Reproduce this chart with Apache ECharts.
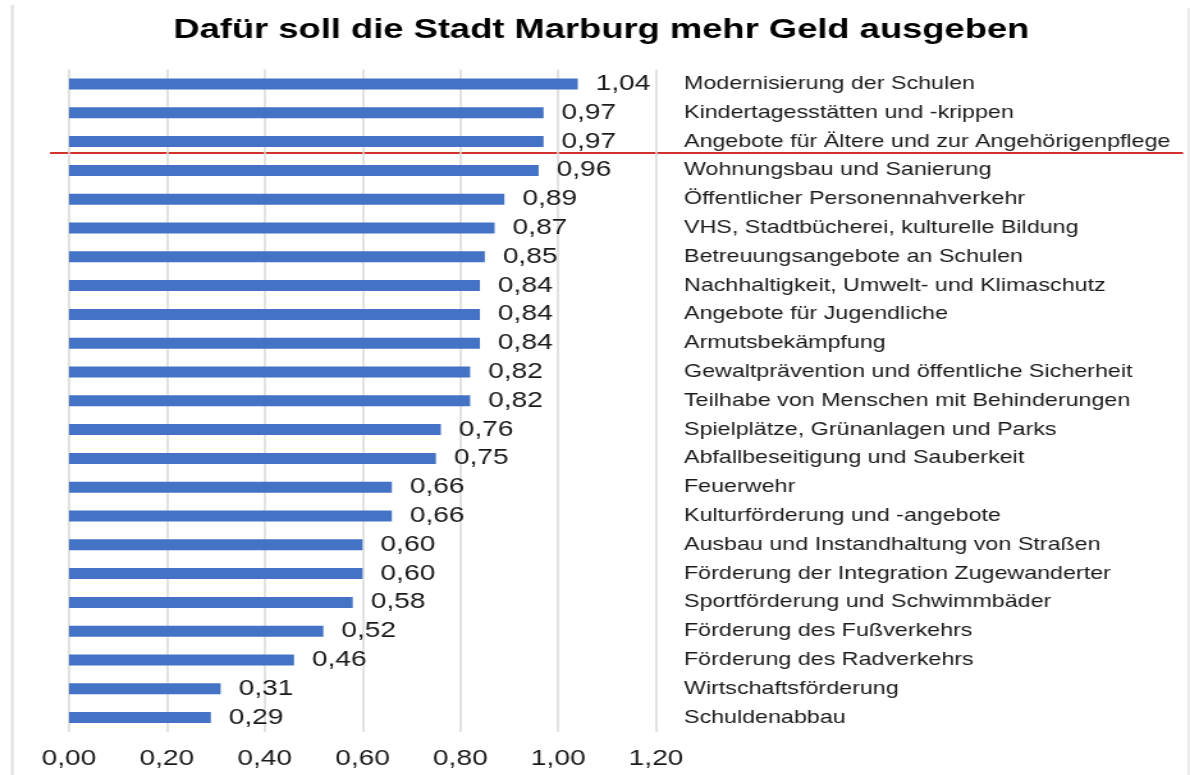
<!DOCTYPE html>
<html>
<head>
<meta charset="utf-8">
<title>Dafür soll die Stadt Marburg mehr Geld ausgeben</title>
<script src="https://cdn.jsdelivr.net/npm/echarts@6/dist/echarts.min.js"></script>
<style>
    html, body { margin: 0; padding: 0; background: #fff; overflow: hidden; }
    /* the original picture is stretched horizontally, so the chart is drawn narrower and widened */
    #main { width: 930px; height: 775px; transform: scaleX(1.2796); transform-origin: 0 0; }
</style>
</head>
<body>
<div id="main"></div>
<script>
// Kategorien (von oben nach unten)
var categories = [
    'Modernisierung der Schulen',
    'Kindertagesstätten und -krippen',
    'Angebote für Ältere und zur Angehörigenpflege',
    'Wohnungsbau und Sanierung',
    'Öffentlicher Personennahverkehr',
    'VHS, Stadtbücherei, kulturelle Bildung',
    'Betreuungsangebote an Schulen',
    'Nachhaltigkeit, Umwelt- und Klimaschutz',
    'Angebote für Jugendliche',
    'Armutsbekämpfung',
    'Gewaltprävention und öffentliche Sicherheit',
    'Teilhabe von Menschen mit Behinderungen',
    'Spielplätze, Grünanlagen und Parks',
    'Abfallbeseitigung und Sauberkeit',
    'Feuerwehr',
    'Kulturförderung und -angebote',
    'Ausbau und Instandhaltung von Straßen',
    'Förderung der Integration Zugewanderter',
    'Sportförderung und Schwimmbäder',
    'Förderung des Fußverkehrs',
    'Förderung des Radverkehrs',
    'Wirtschaftsförderung',
    'Schuldenabbau'
];
// Werte
var values = [1.04, 0.97, 0.97, 0.96, 0.89, 0.87, 0.85, 0.84, 0.84, 0.84, 0.82, 0.82,
    0.76, 0.75, 0.66, 0.66, 0.60, 0.60, 0.58, 0.52, 0.46, 0.31, 0.29];
// Achse
var axisMin = 0;
var axisMax = 1.2;
var axisStep = 0.2;

function deNum(v) {
    return v.toFixed(2).replace('.', ',');
}

var myChart = echarts.init(document.getElementById('main'), null, { renderer: 'canvas' });
var textColor = '#1a1a1a';
var font = 'Liberation Sans, Arial, sans-serif';

var option = {
    backgroundColor: '#ffffff',
    animation: false,
    title: {
        text: 'Dafür soll die Stadt Marburg mehr Geld ausgeben',
        left: 135.5,
        top: 16,
        padding: 0,
        textStyle: {
            fontFamily: font,
            fontSize: 28.4,
            fontWeight: 'bold',
            color: '#000'
        }
    },
    grid: {
        left: 53.9,
        right: 417.3,
        top: 69.6,
        bottom: 43
    },
    xAxis: {
        type: 'value',
        min: axisMin,
        max: axisMax,
        interval: axisStep,
        axisLine: { show: false },
        axisTick: { show: false },
        splitLine: { show: true, lineStyle: { color: '#d9d9d9', width: 1.5 } },
        axisLabel: {
            margin: 16,
            fontFamily: font,
            fontSize: 22,
            color: textColor,
            formatter: function (v) { return deNum(v); }
        }
    },
    yAxis: {
        type: 'category',
        data: categories,
        inverse: true,
        position: 'right',
        axisLine: { show: false },
        axisTick: { show: false },
        splitLine: { show: false },
        axisLabel: {
            margin: 21.8,
            fontFamily: font,
            fontSize: 18.2,
            color: textColor,
            padding: [1, 0, 0, 0]
        }
    },
    series: [
        {
            type: 'bar',
            data: values,
            barWidth: 11,
            itemStyle: { color: '#4472c4' },
            label: {
                show: true,
                position: 'right',
                distance: 14,
                fontFamily: font,
                fontSize: 22,
                color: textColor,
                padding: [3, 0, 0, 0],
                formatter: function (p) { return deNum(p.value); }
            }
        }
    ],
    graphic: [
        {   // rote Markierungslinie
            type: 'line',
            shape: { x1: 39.1, y1: 153, x2: 924.5, y2: 153 },
            style: { stroke: '#d0312d', lineWidth: 2 }
        },
        {   // linker Rand
            type: 'line',
            shape: { x1: 9.6, y1: 5, x2: 9.6, y2: 775 },
            style: { stroke: '#e0e0e0', lineWidth: 2.2 }
        },
        {   // rechter Rand
            type: 'line',
            shape: { x1: 928.8, y1: 8, x2: 928.8, y2: 775 },
            style: { stroke: '#e6e6e6', lineWidth: 1.6 }
        }
    ]
};

myChart.setOption(option);
</script>
</body>
</html>
